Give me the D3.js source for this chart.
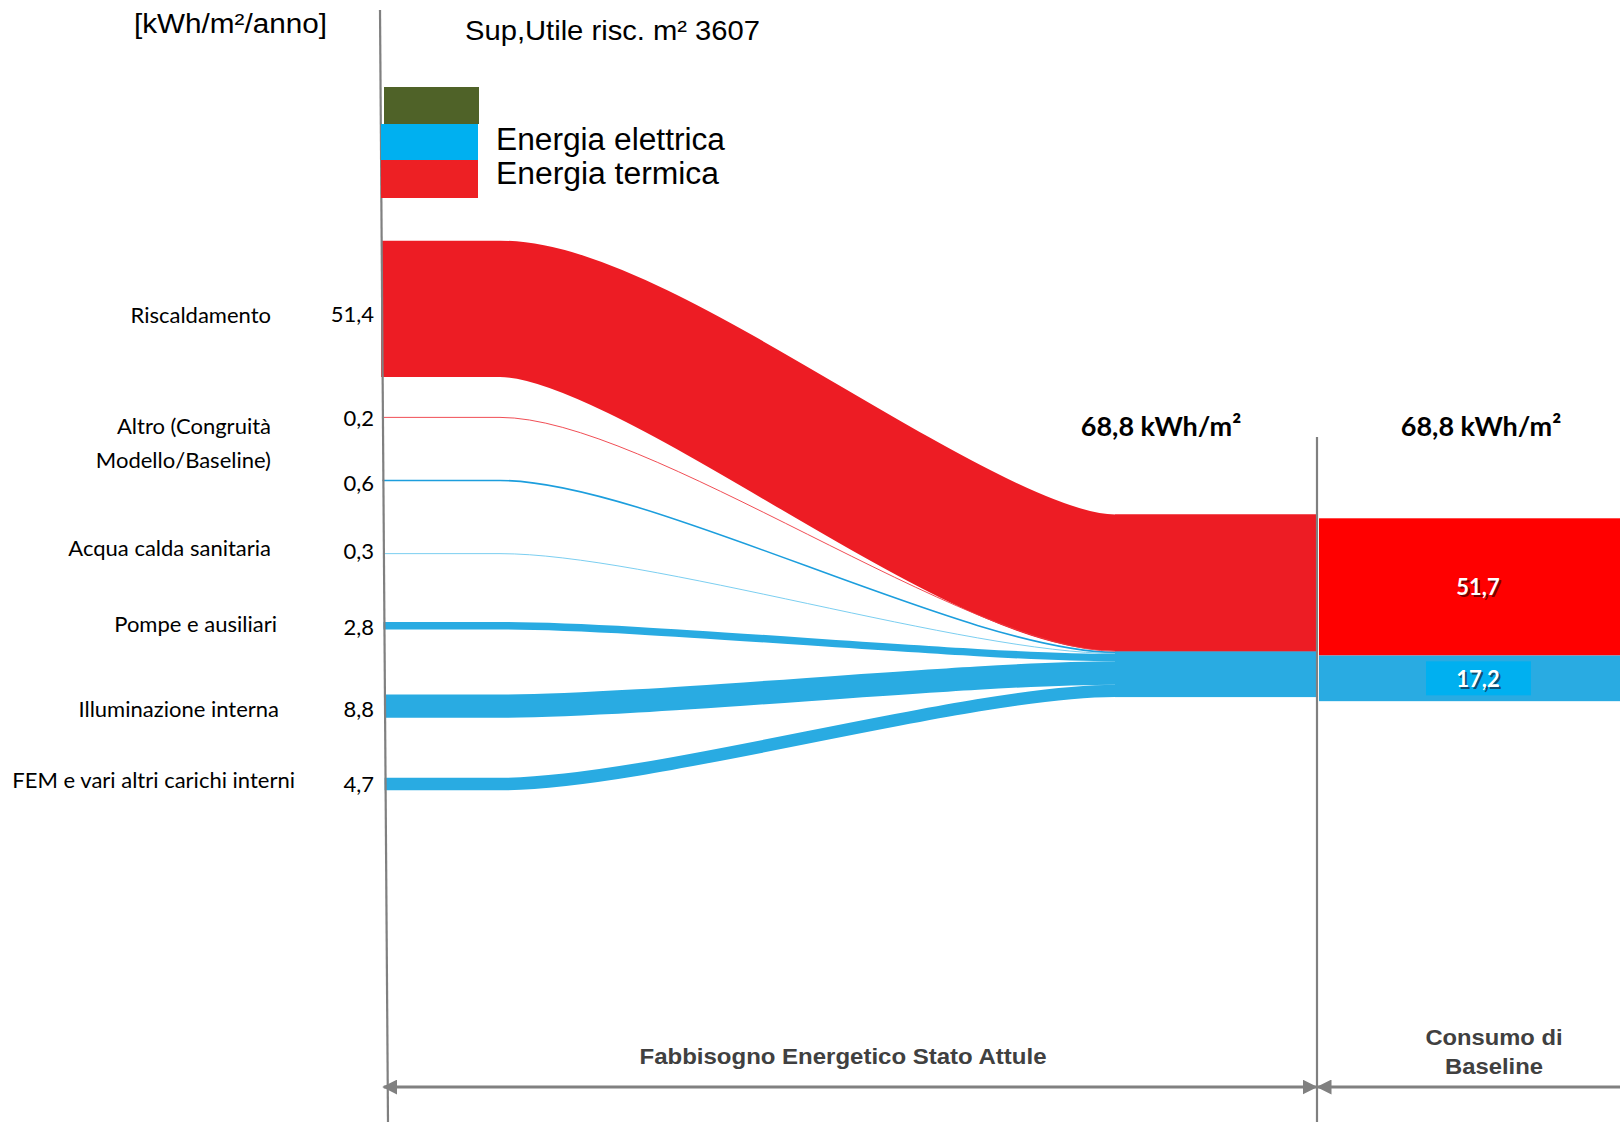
<!DOCTYPE html>
<html>
<head>
<meta charset="utf-8">
<script src="https://cdn.jsdelivr.net/npm/d3@7"></script>
<style>
  body { margin: 0; background: #fff; }
  svg { display: block; }
</style>
</head>
<body>
<script>
// ---- data (kWh/m²/anno) ----
const flowValues  = [51.4, 0.2, 0.6, 0.3, 2.8, 8.8, 4.7];
const flowLabels  = ["51,4", "0,2", "0,6", "0,3", "2,8", "8,8", "4,7"];
const flowCarrier = ["termica", "termica", "elettrica", "acs", "elettrica", "elettrica", "elettrica"];

const rowLabels = [
  ["Riscaldamento"],
  ["Altro (Congruità", "Modello/Baseline)"],
  ["Acqua calda sanitaria"],
  ["Pompe e ausiliari"],
  ["Illuminazione interna"],
  ["FEM e vari altri carichi interni"]
];
const rowFlows = [[0], [1, 2], [3], [4], [5], [6]];

const baselineCarrier = ["termica", "elettrica"];
const baselineValues  = [51.7, 17.2];
const baselineLabels  = ["51,7", "17,2"];

const totalLabel   = "68,8 kWh/m²";
const unitLabel    = "[kWh/m²/anno]";
const surfaceLabel = "Sup,Utile risc. m² 3607";
const legendLabels = ["", "Energia elettrica", "Energia termica"];
const legendKeys   = ["altro", "elettrica", "termica"];
const phaseLabels  = ["Fabbisogno Energetico Stato Attule", ["Consumo di", "Baseline"]];

// ---- layout ----
const W = 1620, H = 1122;
const SANS = "'Liberation Sans', Arial, sans-serif";
const HUM  = "Lato, 'Open Sans', sans-serif";

const colors = {
  termica: "#ED1C24",
  elettrica: "#29ABE2",
  acs: "#7DD0F2"
};
const thinColors = { termica: "#EE3A42", elettrica: "#1C9EDD", acs: "#6CC8EE" };
const legendColors = { altro: "#4F6228", elettrica: "#00B0F0", termica: "#ED2024" };

// vertical length per kWh/m²
const yLen = d3.scaleLinear().domain([0, 68.8]).range([0, 182.6]);

const leftTop = 240.7;             // top of the first source node
const rowGap = [40, 62, 72, 68, 65, 60];
const rightTop = 514.5;            // top of the collecting node
const bendStart = 500, bendEnd = 1115, bendK = 0.24;
const dividerX = 1317;
const baseTop = 518.3, baseX0 = 1319, baseX1 = 1620;

// left axis line is very slightly slanted
const lineX = d3.scaleLinear().domain([10, 1122]).range([380, 388]);

const svg = d3.select("body").append("svg")
  .attr("width", W).attr("height", H)
  .attr("viewBox", `0 0 ${W} ${H}`);

// stacked positions of the flows on both sides
let acc = leftTop;
const left = flowValues.map((v, i) => {
  if (i > 0) acc += rowGap[i - 1];
  const y0 = acc; acc += yLen(v);
  return { y0, y1: acc, yc: (y0 + acc) / 2 };
});
let accR = rightTop;
const right = flowValues.map(v => {
  const y0 = accR; accR += yLen(v);
  return { y0, y1: accR, yc: (y0 + accR) / 2 };
});

// centre line of a flow: flat lead-in, smooth bend, flat run into the node
function centreLine(l, r) {
  const kx = bendK * (bendEnd - bendStart);
  const p = d3.path();
  p.moveTo(lineX(l.yc) - 1, l.yc);
  p.lineTo(bendStart, l.yc);
  p.bezierCurveTo(bendStart + kx, l.yc, bendEnd - kx, r.yc, bendEnd, r.yc);
  p.lineTo(dividerX, r.yc);
  return p.toString();
}

// ---- flows ----
const flows = flowValues.map((v, i) => ({ v, i, l: left[i], r: right[i], c: flowCarrier[i] }));
const drawOrder = flows.slice().sort((a, b) => (a.c === "termica") - (b.c === "termica"));

svg.append("g").attr("fill", "none").selectAll("path")
  .data(drawOrder)
  .join("path")
  .attr("d", d => centreLine(d.l, d.r))
  .attr("stroke", d => d.v < 1 ? thinColors[d.c] : colors[d.c])
  .attr("stroke-width", d => Math.max(yLen(d.v), 0.9))
  .attr("stroke-linecap", "butt");

// collecting node (thermal / electric)
const nodeGroups = [
  { c: "termica", y0: right[0].y0, y1: right[1].y1 },
  { c: "elettrica", y0: right[2].y0, y1: right[6].y1 }
];
svg.append("g").selectAll("rect")
  .data(nodeGroups)
  .join("rect")
  .attr("x", bendEnd).attr("width", dividerX - bendEnd)
  .attr("y", d => d.y0).attr("height", d => d.y1 - d.y0)
  .attr("fill", d => colors[d.c]);

// ---- baseline bars ----
let accB = baseTop;
const bars = baselineValues.map((v, i) => {
  const y0 = accB; accB += yLen(v);
  return { v, y0, y1: accB, c: baselineCarrier[i], label: baselineLabels[i] };
});
const barFill = { termica: "#FF0000", elettrica: "#29ABE2" };
svg.append("g").selectAll("rect")
  .data(bars)
  .join("rect")
  .attr("x", baseX0).attr("width", baseX1 - baseX0)
  .attr("y", d => d.y0).attr("height", d => d.y1 - d.y0)
  .attr("fill", d => barFill[d.c]);

const labelCx = 1478;
// highlight box behind the electric value
const eb = bars[1];
svg.append("rect")
  .attr("x", labelCx - 52).attr("width", 105)
  .attr("y", (eb.y0 + eb.y1) / 2 - 17).attr("height", 34)
  .attr("fill", "#00B0F0");

const shadowCol = { termica: "#7A0000", elettrica: "#0D4F73" };
const barTxt = svg.append("g").attr("font-family", HUM).attr("font-weight", 700)
  .attr("font-size", 22).attr("text-anchor", "middle").attr("dominant-baseline", "central");
barTxt.selectAll("text.sh")
  .data(bars).join("text").attr("class", "sh")
  .attr("x", labelCx + 2).attr("y", d => (d.y0 + d.y1) / 2 + 2)
  .attr("fill", d => shadowCol[d.c])
  .text(d => d.label);
barTxt.selectAll("text.fg")
  .data(bars).join("text").attr("class", "fg")
  .attr("x", labelCx).attr("y", d => (d.y0 + d.y1) / 2)
  .attr("fill", "#fff")
  .text(d => d.label);

// ---- axis lines ----
const grey = "#808080";
svg.append("line")
  .attr("x1", lineX(10)).attr("y1", 10).attr("x2", lineX(1122)).attr("y2", 1122)
  .attr("stroke", grey).attr("stroke-width", 2.2);
svg.append("line")
  .attr("x1", dividerX).attr("y1", 437).attr("x2", dividerX).attr("y2", 1122)
  .attr("stroke", grey).attr("stroke-width", 2.2);

// ---- bottom span arrows ----
const defs = svg.append("defs");
defs.append("marker")
  .attr("id", "head").attr("viewBox", "0 0 10 10")
  .attr("refX", 9).attr("refY", 5)
  .attr("markerWidth", 5).attr("markerHeight", 5)
  .attr("orient", "auto-start-reverse")
  .append("path").attr("d", "M0,0 L10,5 L0,10 Z").attr("fill", grey);

const arrowY = 1087;
svg.append("line")
  .attr("x1", lineX(arrowY) - 4).attr("y1", arrowY).attr("x2", dividerX - 1).attr("y2", arrowY)
  .attr("stroke", grey).attr("stroke-width", 3)
  .attr("marker-start", "url(#head)").attr("marker-end", "url(#head)");
svg.append("line")
  .attr("x1", dividerX + 1).attr("y1", arrowY).attr("x2", W + 10).attr("y2", arrowY)
  .attr("stroke", grey).attr("stroke-width", 3)
  .attr("marker-start", "url(#head)");

svg.append("text")
  .attr("x", 843).attr("y", 1056).attr("dominant-baseline", "central")
  .attr("text-anchor", "middle")
  .attr("font-family", SANS).attr("font-weight", 700).attr("font-size", 22)
  .attr("fill", "#404040")
  .attr("textLength", 407).attr("lengthAdjust", "spacingAndGlyphs")
  .text(phaseLabels[0]);
svg.append("g").selectAll("text")
  .data(phaseLabels[1])
  .join("text")
  .attr("x", 1494).attr("y", (d, i) => 1037 + i * 29).attr("dominant-baseline", "central")
  .attr("text-anchor", "middle")
  .attr("font-family", SANS).attr("font-weight", 700).attr("font-size", 22)
  .attr("fill", "#404040")
  .attr("textLength", (d, i) => [137, 98][i]).attr("lengthAdjust", "spacingAndGlyphs")
  .text(d => d);

// ---- headers ----
svg.append("text")
  .attr("x", 134).attr("y", 24).attr("dominant-baseline", "central")
  .attr("font-family", SANS).attr("font-size", 27).attr("fill", "#000")
  .attr("textLength", 193).attr("lengthAdjust", "spacingAndGlyphs")
  .text(unitLabel);
svg.append("text")
  .attr("x", 465).attr("y", 30).attr("dominant-baseline", "central")
  .attr("font-family", SANS).attr("font-size", 28).attr("fill", "#000")
  .attr("textLength", 295).attr("lengthAdjust", "spacingAndGlyphs")
  .text(surfaceLabel);

// ---- legend ----
const legY = [87, 124, 160], legH = [37, 36, 38];
const leg = svg.append("g");
leg.selectAll("rect")
  .data(legendKeys)
  .join("rect")
  .attr("x", (d, i) => i === 0 ? 384 : 381).attr("width", (d, i) => i === 0 ? 95 : 97)
  .attr("y", (d, i) => legY[i]).attr("height", (d, i) => legH[i])
  .attr("fill", d => legendColors[d]);
leg.selectAll("text")
  .data(legendLabels)
  .join("text")
  .attr("x", 496).attr("y", (d, i) => [0, 139, 173][i]).attr("dominant-baseline", "central")
  .attr("font-family", SANS).attr("font-size", 31).attr("fill", "#000")
  .attr("textLength", (d, i) => [0, 229, 223][i]).attr("lengthAdjust", "spacingAndGlyphs")
  .text(d => d);

// ---- totals ----
svg.append("g").selectAll("text")
  .data([1161, 1481])
  .join("text")
  .attr("x", d => d).attr("y", 425).attr("dominant-baseline", "central")
  .attr("text-anchor", "middle")
  .attr("font-family", HUM).attr("font-weight", 700).attr("font-size", 27).attr("fill", "#000")
  .text(totalLabel);

// ---- row labels and values ----
const labelRight = [271, 271, 271, 277, 279, 295];
const labelShift = [6, -6, -6, -2, 2, -5];
const valueShift = [5, 0, 2, -3, 1, 2, -1];
const rowG = svg.append("g").attr("font-family", HUM).attr("font-size", 22).attr("fill", "#000");
rowLabels.forEach((lines, r) => {
  const ids = rowFlows[r];
  const cy = d3.mean(ids, i => left[i].yc) + labelShift[r];
  const lh = 34;
  lines.forEach((t, j) => {
    rowG.append("text")
      .attr("x", labelRight[r]).attr("y", cy + (j - (lines.length - 1) / 2) * lh)
      .attr("text-anchor", "end").attr("dominant-baseline", "central")
      .text(t);
  });
});
rowG.selectAll("text.val")
  .data(flowLabels)
  .join("text").attr("class", "val")
  .attr("x", 374).attr("y", (d, i) => left[i].yc + valueShift[i])
  .attr("text-anchor", "end").attr("dominant-baseline", "central")
  .text(d => d);
</script>
</body>
</html>
